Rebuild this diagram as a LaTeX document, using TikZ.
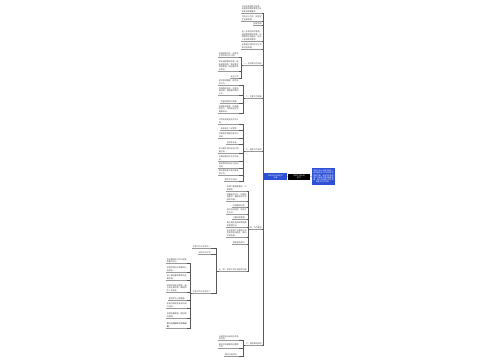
\documentclass[tikz,border=0pt]{standalone}
\usepackage{fontspec}
\newfontfamily\cjk{Noto Sans CJK SC}
\definecolor{mblue}{RGB}{45,80,215}
\tikzset{
  base/.style={font=\cjk\fontsize{2.0}{2.55}\selectfont, text=black!70, inner xsep=0.1bp, inner ysep=0.4bp, align=left, anchor=south east},
  ul/.style={append after command={(\tikzlastnode.south west) edge[draw=black!40,line width=0.3bp] (\tikzlastnode.south east)}},
  lab/.style={base,ul},
  conn/.style={draw=black!65,line width=0.45bp},
  rootbox/.style={fill=black, text=white, font=\cjk\fontsize{1.9}{2.3}\selectfont, inner sep=0.4bp, align=center, anchor=center},
  bluebox/.style={fill=mblue, text=white, font=\cjk\fontsize{1.85}{2.3}\selectfont, inner sep=0.5bp, align=center, anchor=center},
}
\begin{document}
\begin{tikzpicture}[x=1bp,y=-1bp]
\fill[white] (0,0) rectangle (500,360);
\useasboundingbox (0,0) rectangle (500,360);

% root nodes
\node[rootbox, minimum width=22bp, minimum height=6bp] (R) at (299,177) {学校工作计划\\范文};
\node[bluebox, minimum width=23bp, minimum height=7bp] (L) at (275.5,176.5) {学校工作计划范文\\内容};
\node[bluebox, minimum width=23bp, minimum height=17bp] (Q) at (323.5,176.5) {学校工作计划是学校在一\\定时期内对工作的预先安\\排和打算，是指导学校各\\项工作有序开展的重要依\\据，每个学校都必须认真\\制定好工作计划。};
\draw[conn] (L) -- (R);
\draw[conn] (R) -- (Q);

% level 2 (children of L)
\node[lab] (T1) at (262,13) {以科学发展观为指导，\\全面贯彻落实教育方针\\和各项政策要求。};
\node[lab] (T2) at (262,21) {坚持以人为本，促进学\\生全面发展。};
\node[lab] (T3) at (262,25) {指导思想};
\node[lab] (T4) at (262,41) {进一步规范学校管理，\\提高教育教学质量，加\\强教师队伍建设，办好\\人民满意的教育。};
\node[lab] (T5) at (262,49) {全面提升学校办学水平\\和社会声誉。};
\node[lab] (A) at (262,65.5) {一、本学期工作目标};
\node[lab] (B) at (262,98.5) {二、主要工作措施};
\node[lab] (C) at (262,151.5) {三、具体工作安排};
\node[lab] (D) at (262,229.5) {四、工作要求};
\node[lab] (H) at (262,345.5) {六、其他事项说明};
\foreach \c in {T1,T2,T3,T4,T5,A,B,C,D,H}
  \draw[conn] (L.west) -- ++(-1,0) |- (\c.south east);

% group A
\node[lab] (A1) at (239,57.5) {加强德育工作，培养学\\生良好的行为习惯。};
\node[lab] (A2) at (239,71) {深化课堂教学改革，提\\高课堂效率，落实教学\\常规管理，促进教师专\\业成长。};
\node[lab] (A3) at (239,78) {安全工作};
\foreach \c in {A1,A2,A3}
  \draw[conn] (A.south west) -- ++(-2,0) |- (\c.south east);

% group B
\node[lab] (B1) at (239,85) {抓好常规管理，规范办\\学行为。};
\node[lab] (B2) at (239,95) {加强教研活动，开展听\\课评课，提高教师教学\\水平。};
\node[lab] (B3) at (239,103) {完善考核评价制度。};
\node[lab] (B4) at (239,113) {加强家校联系，形成教\\育合力，共同促进学生\\健康成长。};
\foreach \c in {B1,B2,B3,B4}
  \draw[conn] (B.south west) -- ++(-2,0) |- (\c.south east);

% group C
\node[lab] (C1) at (239,124) {开学初制定各项工作计\\划。};
\node[lab] (C2) at (239,130) {组织新生入学教育。};
\node[lab] (C3) at (239,138) {开展教学常规检查评比\\活动。};
\node[lab] (C4) at (239,144) {召开家长会。};
\node[lab] (C5) at (239,153) {举行期中考试并进行质\\量分析。};
\node[lab] (C6) at (239,161) {开展校园文化艺术节活\\动。};
\node[lab] (C7) at (239,168) {组织教师外出学习培训\\活动。};
\node[lab] (C8) at (239,175) {做好期末复习考试等各\\项工作。};
\node[lab] (C9) at (239,181) {撰写工作总结。};
\foreach \c in {C1,C2,C3,C4,C5,C6,C7,C8,C9}
  \draw[conn] (C.south west) -- ++(-2,0) |- (\c.south east);

% group D
\node[lab] (D1) at (247,191) {各部门要高度重视，认\\真落实。};
\node[lab] (D2) at (247,201) {明确责任分工，加强协\\调配合，确保各项工作\\顺利开展。};
\node[lab] (D3) at (247,207) {加强督促检查。};
\node[lab] (D4) at (247,214) {及时总结经验，改进工\\作方法。};
\node[lab] (D5) at (247,219.5) {注重过程管理。};
\node[lab] (D6) at (247,227) {建立健全各项规章制度\\和管理办法。};
\node[lab] (D7) at (247,237) {充分发挥广大教职工的\\积极性和创造性，推动\\学校发展。};
\node[lab] (D8) at (247,244) {强化服务意识。};
\node[lab] (E) at (247,271.5) {五、附：学校工作计划相关内容};
\foreach \c in {D1,D2,D3,D4,D5,D6,D7,D8,E}
  \draw[conn] (D.south west) -- ++(-1.5,0) |- (\c.south east);

% group E
\node[lab] (F1) at (211,248.5) {学校工作计划范文一};
\node[lab] (F2) at (211,254.5) {学校工作计划};
\node[lab] (F3) at (211,293.5) {学校工作计划范文二};
\foreach \c in {F1,F2,F3}
  \draw[conn] (E.south west) -- ++(-2,0) |- (\c.south east);

% group F3
\node[lab] (G1) at (187,263.5) {本学期学校工作以提高\\质量为中心。};
\node[lab] (G2) at (187,272) {加强领导班子和教师队\\伍建设。};
\node[lab] (G3) at (187,280) {深入推进素质教育的全\\面实施。};
\node[lab] (G4) at (187,292) {加强学校安全管理，建\\立安全责任制，确保师\\生人身安全。};
\node[lab] (G5) at (187,300) {重视学生心理健康。};
\node[lab] (G6) at (187,308) {积极开展丰富多彩的课\\外活动。};
\node[lab] (G7) at (187,318) {加强后勤管理，做好服\\务保障。};
\node[lab, text=black] (G8) at (187,328) {努力开创学校工作新局\\面。};
\foreach \c in {G1,G2,G3,G4,G5,G6,G7,G8}
  \draw[conn] (F3.south west) -- ++(-2,0) |- (\c.south east);

% group H
\node[lab] (H1) at (239,340.5) {认真完成上级交办的各\\项任务。};
\node[lab] (H2) at (239,348.5) {做好学校档案资料整理\\工作。};
\node[lab] (H3) at (239,356) {按时上报材料。};
\foreach \c in {H1,H2,H3}
  \draw[conn] (H.south west) -- ++(-2,0) |- (\c.south east);
\end{tikzpicture}
\end{document}
